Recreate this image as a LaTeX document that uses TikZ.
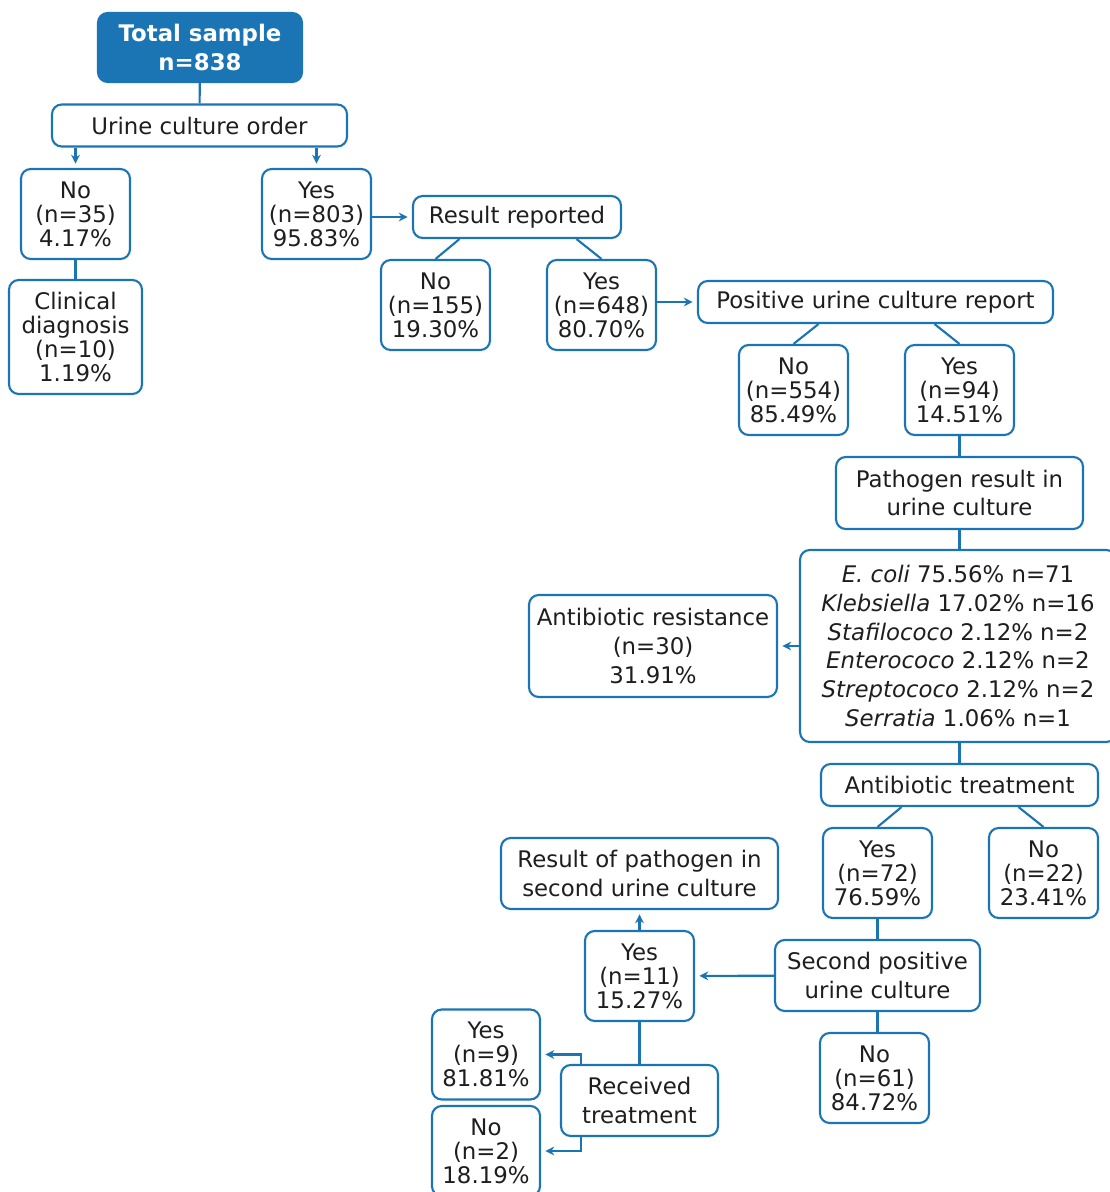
\documentclass[tikz,border=0pt]{standalone}
\usepackage{fontspec}
\setmainfont{DejaVu Sans}
\usetikzlibrary{arrows.meta,positioning,calc}
\definecolor{flowblue}{HTML}{1B75B4}
\definecolor{ink}{HTML}{1E1E1E}
\tikzset{
  basebox/.style={
    rectangle, rounded corners=5.5pt, draw=flowblue, line width=1.2pt,
    fill=white, text=ink, align=center, inner sep=0pt
  },
  titlebox/.style={basebox, fill=flowblue, text=white,
    font=\fontsize{13}{16.4}\selectfont\bfseries,
    minimum width=4.08cm, minimum height=1.38cm},
  stagebox/.style={basebox, font=\fontsize{13}{16.4}\selectfont,
    minimum height=#1},
  stagebox/.default=0.84cm,
  countbox/.style={basebox, font=\fontsize{13}{13.7}\selectfont,
    minimum width=2.18cm, minimum height=1.8cm},
  flowline/.style={draw=flowblue, line width=1.2pt},
  flowarrow/.style={flowline, -{Stealth[length=5pt, width=5pt]},
    shorten >=2.5pt},
}

\begin{document}
\begin{tikzpicture}[x=0.02cm, y=-0.02cm]
\useasboundingbox (0,0) rectangle (1109,1192);
\node[titlebox] (total) at (200,47.5) {Total sample\\n=838};
\node[stagebox, minimum width=5.9cm] (order) at (199.5,125.5) {Urine culture order};
\node[countbox] (no1) at (75.5,214) {No\\(n=35)\\4.17\%};
\node[countbox] (yes1) at (316.5,214) {Yes\\(n=803)\\95.83\%};
\node[countbox, minimum width=2.66cm, minimum height=2.28cm] (clinical) at (75.5,337)
  {Clinical\\diagnosis\\(n=10)\\1.19\%};
\node[stagebox, minimum width=4.16cm] (report) at (517,217) {Result reported};
\node[countbox] (no2) at (435.5,305) {No\\(n=155)\\19.30\%};
\node[countbox] (yes2) at (601.5,305) {Yes\\(n=648)\\80.70\%};
\node[stagebox, minimum width=7.1cm] (positive) at (875.5,302) {Positive urine culture report};
\node[countbox] (no3) at (793.5,390) {No\\(n=554)\\85.49\%};
\node[countbox] (yes3) at (959.5,390) {Yes\\(n=94)\\14.51\%};
\node[stagebox=1.44cm, minimum width=4.94cm] (pathogen) at (959.5,493)
  {Pathogen result in\\urine culture};
\node[stagebox=3.84cm, minimum width=6.32cm] (species) at (958,646)
  {\textit{E. coli} 75.56\% n=71\\\textit{Klebsiella} 17.02\% n=16\\
   \textit{Stafilococo} 2.12\% n=2\\\textit{Enterococo} 2.12\% n=2\\
   \textit{Streptococo} 2.12\% n=2\\\textit{Serratia} 1.06\% n=1};
\node[stagebox=2.04cm, minimum width=4.96cm] (resistance) at (653,646)
  {Antibiotic resistance\\(n=30)\\31.91\%};
\node[stagebox, minimum width=5.54cm] (treatment) at (959.5,785) {Antibiotic treatment};
\node[countbox] (yes4) at (877.5,873) {Yes\\(n=72)\\76.59\%};
\node[countbox] (no4) at (1043.5,873) {No\\(n=22)\\23.41\%};
\node[stagebox=1.42cm, minimum width=4.1cm] (second) at (877.5,975.5)
  {Second positive\\urine culture};
\node[countbox] (no5) at (874.5,1078) {No\\(n=61)\\84.72\%};
\node[countbox] (yes5) at (639.5,976) {Yes\\(n=11)\\15.27\%};
\node[stagebox=1.42cm, minimum width=5.54cm] (rescult) at (639.5,873.5)
  {Result of pathogen in\\second urine culture};
\node[stagebox=1.42cm, minimum width=3.14cm] (received) at (639.5,1100.5)
  {Received\\treatment};
\node[countbox, minimum width=2.16cm] (yes6) at (486,1054.5) {Yes\\(n=9)\\81.81\%};
\node[countbox, minimum width=2.16cm] (no6) at (486,1151) {No\\(n=2)\\18.19\%};
\draw[flowline] (total) -- (order);
\draw[flowarrow] (order.south -| no1) -- (no1);
\draw[flowarrow] (order.south -| yes1) -- (yes1);
\draw[flowline] (no1) -- (clinical);
\draw[flowarrow] (yes1.east |- report) -- (report);
\draw[flowline] ([xshift=0.48cm]no2.north |- report.south) -- (no2.north);
\draw[flowline] ([xshift=-0.5cm]yes2.north |- report.south) -- (yes2.north);
\draw[flowarrow] (yes2.east |- positive) -- (positive);
\draw[flowline] ([xshift=0.5cm]no3.north |- positive.south) -- (no3.north);
\draw[flowline] ([xshift=-0.5cm]yes3.north |- positive.south) -- (yes3.north);
\draw[flowline] (yes3) -- (pathogen);
\draw[flowline] (pathogen.south) -- (pathogen.south |- species.north);
\draw[flowarrow] (species.west) -- (resistance.east);
\draw[flowline] (species.south -| treatment) -- (treatment);
\draw[flowline] ([xshift=0.48cm]yes4.north |- treatment.south) -- (yes4.north);
\draw[flowline] ([xshift=-0.5cm]no4.north |- treatment.south) -- (no4.north);
\draw[flowline] (yes4) -- (second);
\draw[flowline] (second.south) -- (second.south |- no5.north);
\draw[flowarrow] (second) -- (yes5);
\draw[flowarrow] (yes5) -- (rescult);
\draw[flowline] (yes5) -- (received);
\draw[flowarrow] ([xshift=0.42cm]received.north west) |- (yes6);
\draw[flowarrow] ([xshift=0.42cm]received.south west) |- (no6);
\end{tikzpicture}
\end{document}
